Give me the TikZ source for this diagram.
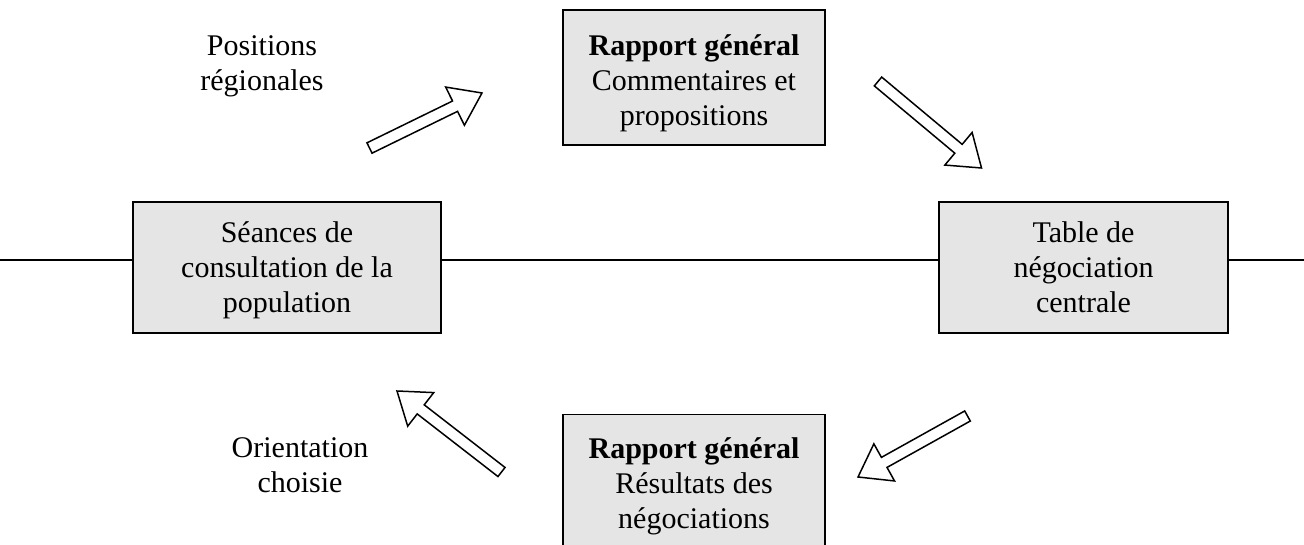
\documentclass[tikz,border=0pt]{standalone}
\usepackage{fontspec}
\setmainfont{Liberation Serif}
\usetikzlibrary{calc}
\tikzset{
  box/.style={draw=black, line width=0.6pt, fill=gray!20, inner sep=0pt},
  lbl/.style={align=center, inner sep=0pt, font=\fontsize{12pt}{14pt}\selectfont},
  blockarrow/.style={draw=black, line width=0.6pt, fill=white, line join=miter},
  hline/.style={draw=black, line width=0.6pt}
}
\newcommand\blockarrow[2]{%
  \draw[blockarrow]
    ($(#1)!2.3pt!90:(#2)$) --
    ($($(#2)!12pt!(#1)$)!2.3pt!90:(#2)$) --
    ($($(#2)!12pt!(#1)$)!8.5pt!90:(#2)$) --
    (#2) --
    ($($(#2)!12pt!(#1)$)!8.5pt!-90:(#2)$) --
    ($($(#2)!12pt!(#1)$)!2.3pt!-90:(#2)$) --
    ($(#1)!2.3pt!-90:(#2)$) -- cycle;}
\begin{document}
\begin{tikzpicture}[x=0.4pt, y=-0.4pt]
  \useasboundingbox (0,0) rectangle (1304,545);
  \clip (0,0) rectangle (1304,545);
  % boxes
  \node[box, minimum width=123.2pt, minimum height=52.4pt] (left) at (287,267.5) {};
  \node[box, minimum width=115.6pt, minimum height=52.4pt] (right) at (1083.5,267.5) {};
  \node[box, minimum width=104.8pt, minimum height=54pt] (top) at (694,77.5) {};
  \node[box, minimum width=104.8pt, minimum height=54pt] (bottom) at (694,482) {};
  % box texts
  \node[lbl] (leftt) at ([yshift=-1.2pt]left.center) {Séances de\\consultation de la\\population};
  \node[lbl] (rightt) at (right.center) {Table de\\négociation\\centrale};
  \node[lbl] (topt) at ([yshift=-2.4pt]top.center) {\textbf{Rapport général}\\Commentaires et\\propositions};
  \node[lbl] (bottomt) at ([yshift=-1.6pt]bottom.center) {\textbf{Rapport général}\\Résultats des\\négociations};
  % labels
  \node[lbl] (pos) at (262,66) {Positions\\régionales};
  \node[lbl] (ori) at (300,465) {Orientation\\choisie};
  % horizontal line
  \coordinate (L0) at (0,260);
  \coordinate (R0) at (1304,260);
  \draw[hline] (L0) -- (L0 -| left.west);
  \draw[hline] (L0 -| left.east) -- (L0 -| right.west);
  \draw[hline] (L0 -| right.east) -- (R0);
  % block arrows
  \coordinate (a1t) at (369.5,148);  \coordinate (a1h) at (482,93);
  \coordinate (a2t) at (878,81.5);   \coordinate (a2h) at (981.5,168);
  \coordinate (a3t) at (501.5,472);  \coordinate (a3h) at (397,391);
  \coordinate (a4t) at (967.5,416);  \coordinate (a4h) at (858,477);
  \blockarrow{a1t}{a1h}
  \blockarrow{a2t}{a2h}
  \blockarrow{a3t}{a3h}
  \blockarrow{a4t}{a4h}
\end{tikzpicture}
\end{document}
